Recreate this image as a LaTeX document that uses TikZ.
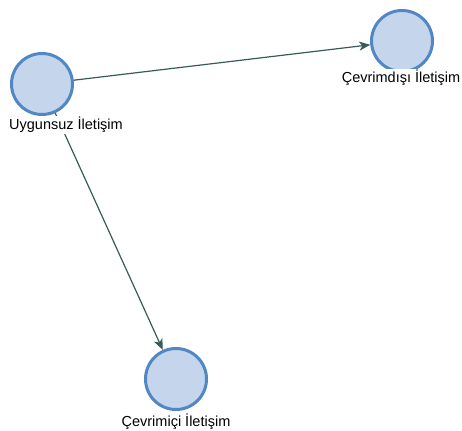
\documentclass[tikz,border=0pt]{standalone}
\usepackage{fontspec}
\setmainfont{Liberation Sans}
\usetikzlibrary{arrows.meta}
\definecolor{nodefill}{HTML}{C5D6EC}
\definecolor{nodeline}{HTML}{5087C4}
\definecolor{edgecol}{HTML}{3A5A58}
\tikzset{
  circ/.style={circle, draw=nodeline, fill=nodefill, line width=3pt, minimum size=61pt, inner sep=0pt},
  lab/.style={fill=white, inner sep=1pt, font=\fontsize{14.5}{17}\selectfont, text=black},
  conn/.style={draw=edgecol, line width=1.2pt, -{Stealth[length=11pt, width=9pt, inset=3pt]}}
}
\begin{document}
\begin{tikzpicture}[x=1pt, y=-1pt]
\useasboundingbox (0,0) rectangle (462,430);
\node[circ] (a) at (42,84) {};
\node[circ] (b) at (402,41) {};
\node[circ] (c) at (176,379) {};
\draw[conn] (a) -- (b);
\draw[conn] (a) -- (c);
\node[lab, anchor=base west] (la) at (8,130) {Uygunsuz İletişim};
\node[lab, anchor=base] (lb) at (401,83) {Çevrimdışı İletişim};
\node[lab, anchor=base] (lc) at (176,426) {Çevrimiçi İletişim};
\end{tikzpicture}
\end{document}
